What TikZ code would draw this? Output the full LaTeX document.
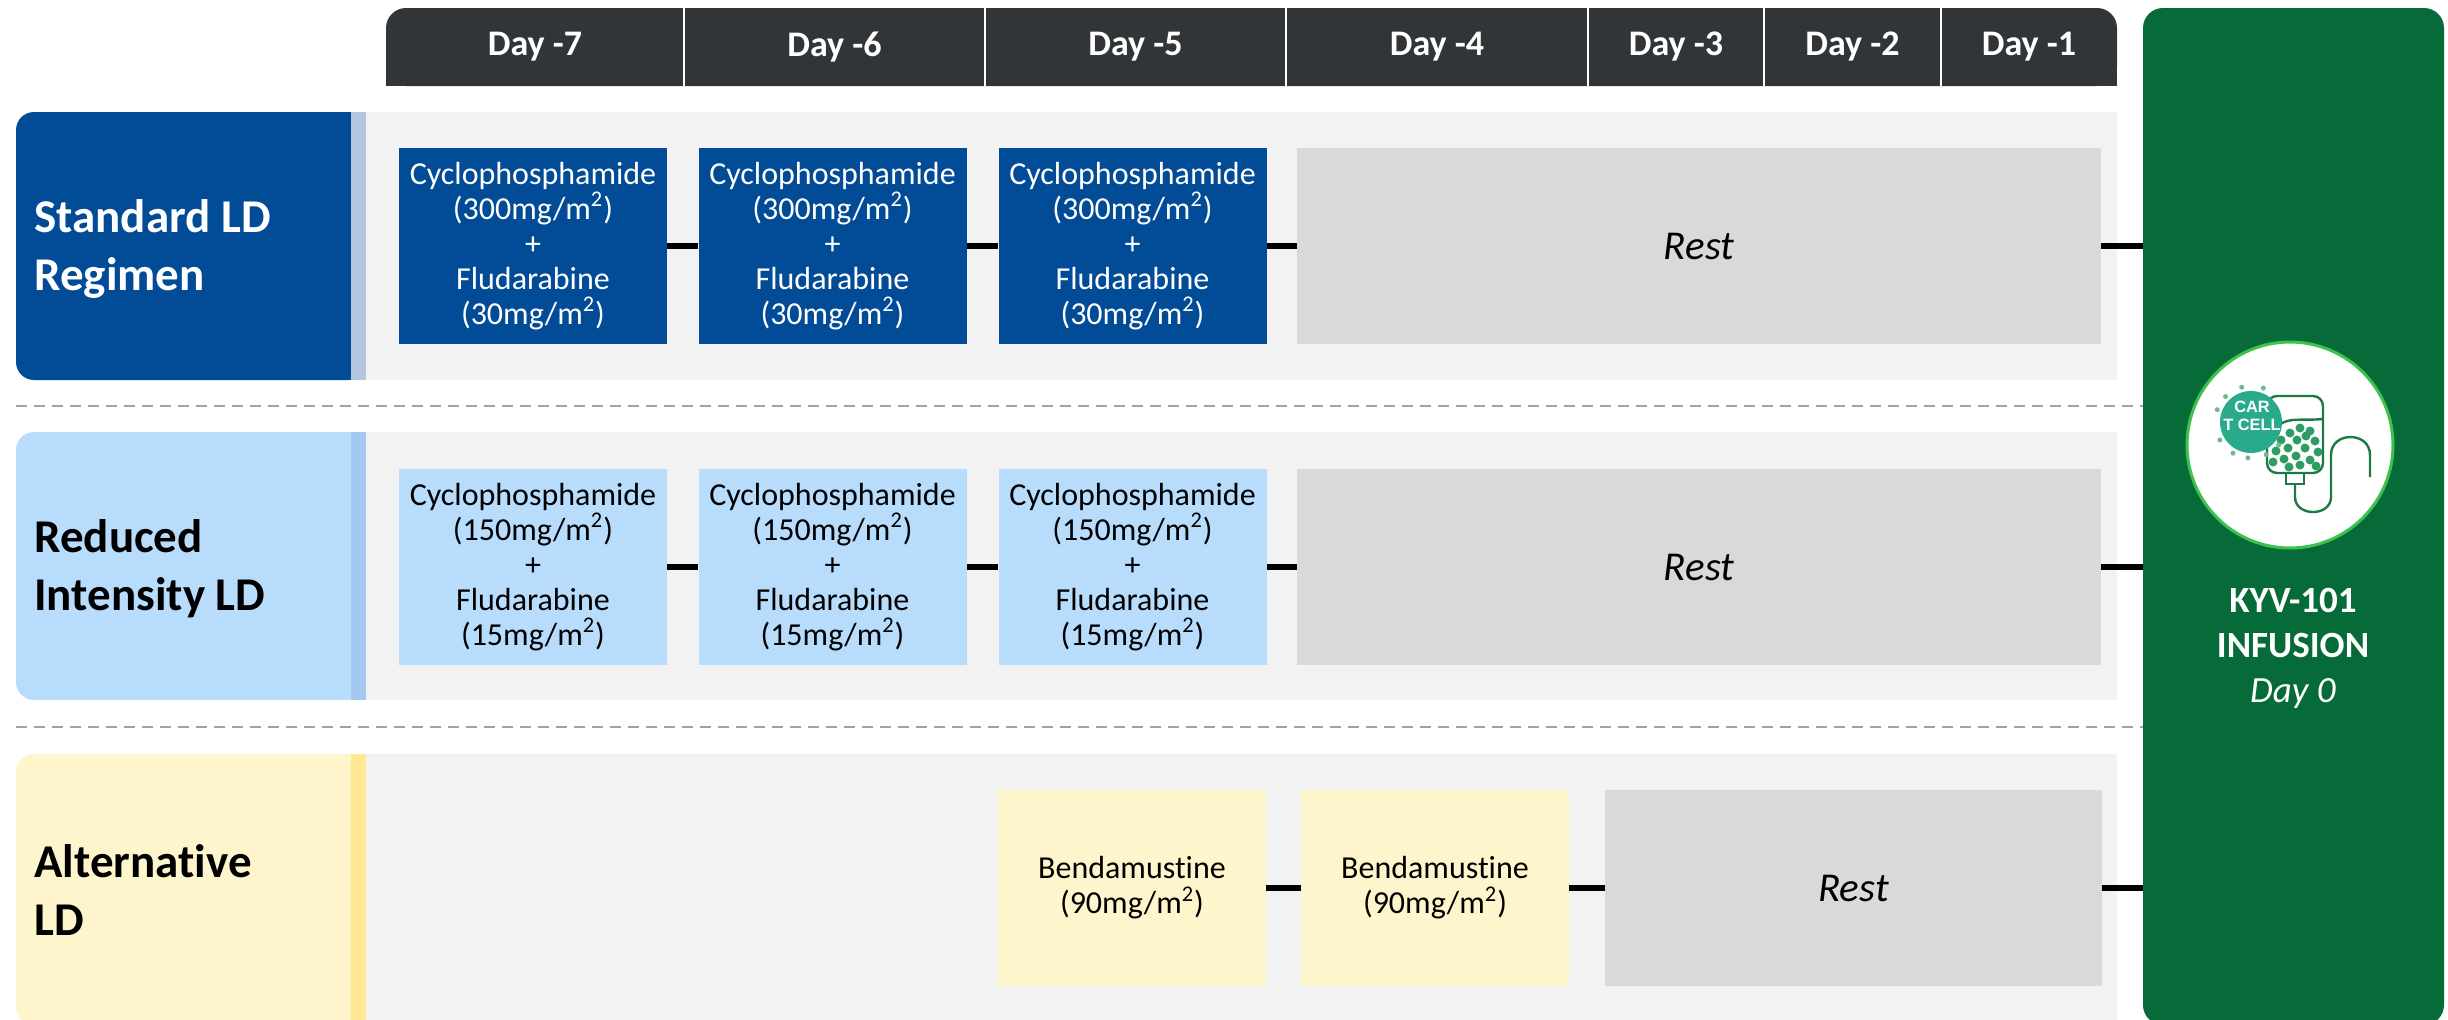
\documentclass[tikz,border=0pt]{standalone}
\usepackage{fontspec}
\setmainfont{Carlito}[Ligatures=NoCommon]
\newfontfamily\iconfont{Liberation Sans}
\usetikzlibrary{positioning}

\definecolor{hdrgray}{HTML}{323537}
\definecolor{stdblue}{HTML}{024B96}
\definecolor{stdstripe}{HTML}{B4C7E0}
\definecolor{redblue}{HTML}{B8DCFC}
\definecolor{redstripe}{HTML}{A3C9F3}
\definecolor{altyellow}{HTML}{FFF5CC}
\definecolor{altstripe}{HTML}{FFE993}
\definecolor{panelgray}{HTML}{F2F2F2}
\definecolor{restgray}{HTML}{D9D9D9}
\definecolor{infgreen}{HTML}{066B38}
\definecolor{dashgray}{HTML}{9EA3A6}
\definecolor{ringgreen}{HTML}{3CC34B}
\definecolor{bagline}{HTML}{1E7A45}
\definecolor{cellteal}{HTML}{2AAA8C}
\definecolor{blobgreen}{HTML}{2E9D63}

\tikzset{
  dayhead/.style={text=white, font=\bfseries\fontsize{18}{20}\selectfont},
  rowlabel/.style={anchor=west, align=left, inner sep=0pt,
    font=\bfseries\fontsize{23.5}{29}\selectfont},
  dosebox/.style={minimum width=134pt, minimum height=98pt, inner sep=1pt, align=center,
    font=\fontsize{16}{17.5}\selectfont},
  restbox/.style={fill=restgray, minimum height=98pt, font=\itshape\fontsize{20.5}{24}\selectfont},
  link/.style={black, line width=3pt},
  sep/.style={dashgray, line width=1.2pt, dash pattern=on 5.5pt off 3.5pt},
  bag/.style={bagline, line width=1.2pt},
}

\begin{document}
\begin{tikzpicture}[x=0.5pt, y=-0.5pt]
\useasboundingbox (0,0) rectangle (2448,1019);

% day header bar
\fill[hdrgray, rounded corners=10pt] (386,8) rectangle (2117,86);
\fill[hdrgray] (386,40) rectangle (2117,86);
\foreach \cx/\d in {535/7, 834.5/6, 1135.5/5, 1437/4, 1676/3, 1852.5/2, 2029/1}
  \node[dayhead] (day\d) at (\cx,47) {Day -\d};
\foreach \bx in {684, 985, 1286, 1588, 1764, 1941}
  \draw[white, line width=1pt] (\bx,8) -- (\bx,86);

% row backgrounds
\fill[stdblue, rounded corners=9pt] (16,112) rectangle (366,380);
\fill[stdblue] (200,112) rectangle (351,380);
\fill[stdstripe] (351,112) rectangle (366,380);
\fill[panelgray] (366,112) rectangle (2117,380);

\fill[redblue, rounded corners=9pt] (16,432) rectangle (366,700);
\fill[redblue] (200,432) rectangle (351,700);
\fill[redstripe] (351,432) rectangle (366,700);
\fill[panelgray] (366,432) rectangle (2117,700);

\fill[altyellow, rounded corners=9pt] (16,754) rectangle (366,1025);
\fill[altyellow] (200,754) rectangle (351,1025);
\fill[altstripe] (351,754) rectangle (366,1025);
\fill[panelgray] (366,754) rectangle (2117,1025);

\draw[sep] (16,406) -- (2143,406);
\draw[sep] (16,727) -- (2143,727);

% row labels
\node[rowlabel, text=white] (lstd) at (34,249) {Standard LD\\Regimen};
\node[rowlabel] (lred) at (34,569) {Reduced\\Intensity LD};
\node[rowlabel] (lalt) at (34,890) {Alternative\\LD};

% infusion panel
\node[fill=infgreen, rounded corners=10pt, minimum width=150.5pt, minimum height=508.5pt,
  inner sep=0pt] (inf) at (2293.5,516.5) {};
\node[text=white, align=center, font=\fontsize{18.5}{22.5}\selectfont] (inftxt) at (2293,648)
  {\textbf{KYV-101}\\\textbf{INFUSION}\\\textit{Day 0}};

% standard regimen
\node[dosebox, fill=stdblue, text=white] (s1) at (533,246)
  {Cyclophosphamide\\(300mg/m\textsuperscript{2})\\+\\Fludarabine\\(30mg/m\textsuperscript{2})};
\node[dosebox, fill=stdblue, text=white] (s2) at (832.5,246)
  {Cyclophosphamide\\(300mg/m\textsuperscript{2})\\+\\Fludarabine\\(30mg/m\textsuperscript{2})};
\node[dosebox, fill=stdblue, text=white] (s3) at (1132.5,246)
  {Cyclophosphamide\\(300mg/m\textsuperscript{2})\\+\\Fludarabine\\(30mg/m\textsuperscript{2})};
\node[restbox, minimum width=402pt] (srest) at (1699,246) {Rest};
\draw[link] (s1) -- (s2);
\draw[link] (s2) -- (s3);
\draw[link] (s3) -- (srest);
\draw[link] (srest) -- (srest -| inf.west);

% reduced intensity
\node[dosebox, fill=redblue] (r1) at (533,567)
  {Cyclophosphamide\\(150mg/m\textsuperscript{2})\\+\\Fludarabine\\(15mg/m\textsuperscript{2})};
\node[dosebox, fill=redblue] (r2) at (832.5,567)
  {Cyclophosphamide\\(150mg/m\textsuperscript{2})\\+\\Fludarabine\\(15mg/m\textsuperscript{2})};
\node[dosebox, fill=redblue] (r3) at (1132.5,567)
  {Cyclophosphamide\\(150mg/m\textsuperscript{2})\\+\\Fludarabine\\(15mg/m\textsuperscript{2})};
\node[restbox, minimum width=402pt] (rrest) at (1699,567) {Rest};
\draw[link] (r1) -- (r2);
\draw[link] (r2) -- (r3);
\draw[link] (r3) -- (rrest);
\draw[link] (rrest) -- (rrest -| inf.west);

% alternative
\node[dosebox, fill=altyellow] (a1) at (1132,888) {Bendamustine\\(90mg/m\textsuperscript{2})};
\node[dosebox, fill=altyellow] (a2) at (1435,888) {Bendamustine\\(90mg/m\textsuperscript{2})};
\node[restbox, minimum width=248.5pt] (arest) at (1853.5,888) {Rest};
\draw[link] (a1) -- (a2);
\draw[link] (a2) -- (arest);
\draw[link] (arest) -- (arest -| inf.west);

% car-t bag icon
\draw[ringgreen, line width=1.5pt, fill=white] (2290,445) circle (103);
\foreach \bx/\by in {2300/428, 2290/433, 2310/431, 2281/440, 2297/440, 2315/441, 2306/436,
    2288/448, 2305/448, 2318/452, 2276/451, 2296/456, 2284/459, 2310/460, 2273/462,
    2300/465, 2289/467, 2316/466}
  \fill[blobgreen] (\bx,\by) circle (4.5);
\draw[bag, rounded corners=5pt] (2267,473) -- (2267,396) -- (2323,396) -- (2323,473) -- cycle;
\draw[bag] (2279,425) .. controls (2290,417) and (2300,421) .. (2323,419);
\draw[bag] (2286,473) rectangle (2304,484);
\draw[bag] (2295,484) -- (2295,497) .. controls (2295,517) and (2331,517) .. (2331,497)
  -- (2331,455) .. controls (2331,431) and (2370,431) .. (2370,455) -- (2370,477);
\foreach \a in {40, 65, 95, 120, 150, 200, 225, 255, 290}
  \fill[blobgreen!70] (2251,422) ++(\a:36) circle (2.5);
\fill[cellteal] (2251,422) circle (31);
\node[text=white, align=center, inner sep=0pt,
  font=\iconfont\bfseries\fontsize{8.2}{9}\selectfont] (cart) at (2252,416) {CAR\\T CELL};
\end{tikzpicture}
\end{document}
